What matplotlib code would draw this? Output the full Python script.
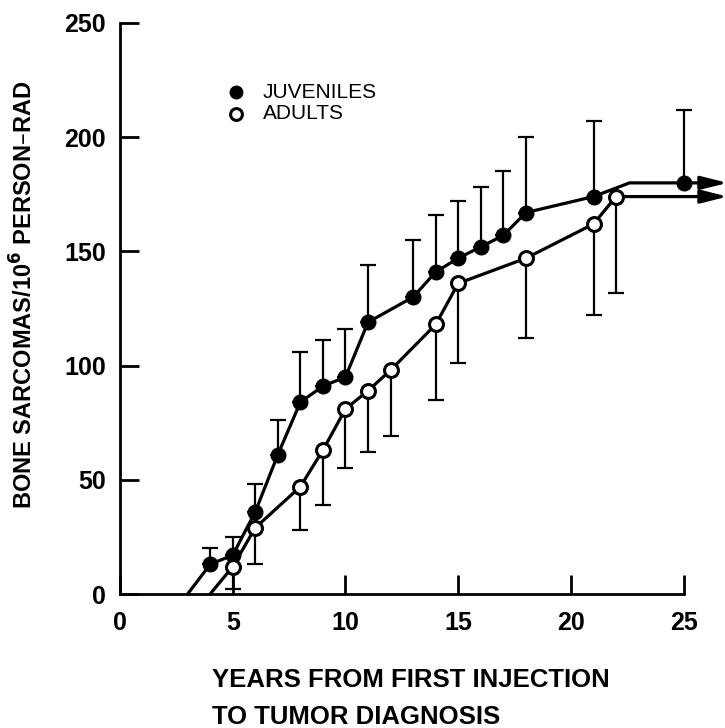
import numpy as np
import matplotlib.pyplot as plt

plt.rcParams['font.family'] = ['Liberation Sans', 'DejaVu Sans']

# juveniles: years, rate, upper error limit
juv_years = [4, 5, 6, 7, 8, 9, 10, 11, 13, 14, 15, 16, 17, 18, 21, 25]
juv_rate = [13, 17, 36, 61, 84, 91, 95, 119, 130, 141, 147, 152, 157, 167, 174, 180]
juv_upper = [20, 25, 48, 76, 106, 111, 116, 144, 155, 166, 172, 178, 185, 200, 207, 212]
# line runs from the zero crossing and levels off before 25 y
juv_line_x = [3] + juv_years[:-1] + [22.6, 25]
juv_line_y = [0] + juv_rate[:-1] + [180, 180]

# adults: years, rate, lower error limit
adu_years = [5, 6, 8, 9, 10, 11, 12, 14, 15, 18, 21, 22]
adu_rate = [12, 29, 47, 63, 81, 89, 98, 118, 136, 147, 162, 174]
adu_lower = [2, 13, 28, 39, 55, 62, 69, 85, 101, 112, 122, 132]
adu_line_x = [4] + adu_years
adu_line_y = [0] + adu_rate

arrow_end = 26.95

fig = plt.figure(figsize=(7.25, 7.28), dpi=100)
ax = fig.add_axes([120/725, 134/728, 563.7/725, 571/728])

lw = 2.3
# error bars (one-sided)
jv = np.array(juv_rate)
av = np.array(adu_rate)
ax.errorbar(juv_years, jv, yerr=[np.zeros_like(jv), np.array(juv_upper) - jv],
            fmt='none', ecolor='black', elinewidth=1.6, capsize=6, capthick=1.6,
            clip_on=False, zorder=2)
ax.errorbar(adu_years, av, yerr=[av - np.array(adu_lower), np.zeros_like(av)],
            fmt='none', ecolor='black', elinewidth=1.6, capsize=6, capthick=1.6,
            clip_on=False, zorder=2)

# connecting lines
ax.plot(juv_line_x, juv_line_y, color='black', lw=lw, clip_on=False, zorder=3)
ax.plot(adu_line_x, adu_line_y, color='black', lw=lw, clip_on=False, zorder=3)

# open-ended arrows on the plateau
for x0, y0 in [(juv_line_x[-1], juv_line_y[-1]), (adu_line_x[-1], adu_line_y[-1])]:
    ax.annotate('', xy=(arrow_end, y0), xytext=(x0, y0),
                arrowprops=dict(arrowstyle='-|>,head_length=0.8,head_width=0.2',
                                mutation_scale=20, lw=lw, color='black',
                                shrinkA=0, shrinkB=0),
                annotation_clip=False, zorder=3)

# markers
ax.plot(juv_years, juv_rate, 'o', ms=10.5, color='black', clip_on=False, zorder=4)
ax.plot(adu_years, adu_rate, 'o', ms=10, mfc='white', mec='black', mew=2.2,
        clip_on=False, zorder=4)

# legend
ax.plot([0.206], [0.879], 'o', ms=9, color='black', transform=ax.transAxes)
ax.plot([0.206], [0.841], 'o', ms=8.5, mfc='white', mec='black', mew=2.2,
        transform=ax.transAxes)
ax.text(0.253, 0.879, 'JUVENILES', transform=ax.transAxes, fontsize=15,
        va='center', ha='left')
ax.text(0.253, 0.841, 'ADULTS', transform=ax.transAxes, fontsize=15,
        va='center', ha='left')

ax.set_xlim(0, 25)
ax.set_ylim(0, 250)
ax.set_xticks(range(0, 26, 5))
ax.set_yticks(range(0, 251, 50))
for s in ['top', 'right']:
    ax.spines[s].set_visible(False)
for s in ['left', 'bottom']:
    ax.spines[s].set_linewidth(2)
ax.tick_params(direction='in', length=14, width=2, labelsize=18)
ax.tick_params(axis='x', pad=12)
ax.tick_params(axis='y', pad=10)
for lab in ax.get_xticklabels() + ax.get_yticklabels():
    lab.set_fontweight('bold')

fig.text(24/725, 1 - 295/728, 'BONE SARCOMAS/10$^{\\mathbf{6}}$ PERSON\u2013RAD',
         rotation=90, ha='center', va='center', fontsize=17, fontweight='bold')
fig.text(212/725, 1 - 680/728, 'YEARS FROM FIRST INJECTION',
         ha='left', va='center', fontsize=18.5, fontweight='bold')
fig.text(212/725, 1 - 717/728, 'TO TUMOR DIAGNOSIS',
         ha='left', va='center', fontsize=18.5, fontweight='bold')

fig.savefig('out.png', dpi=100)
